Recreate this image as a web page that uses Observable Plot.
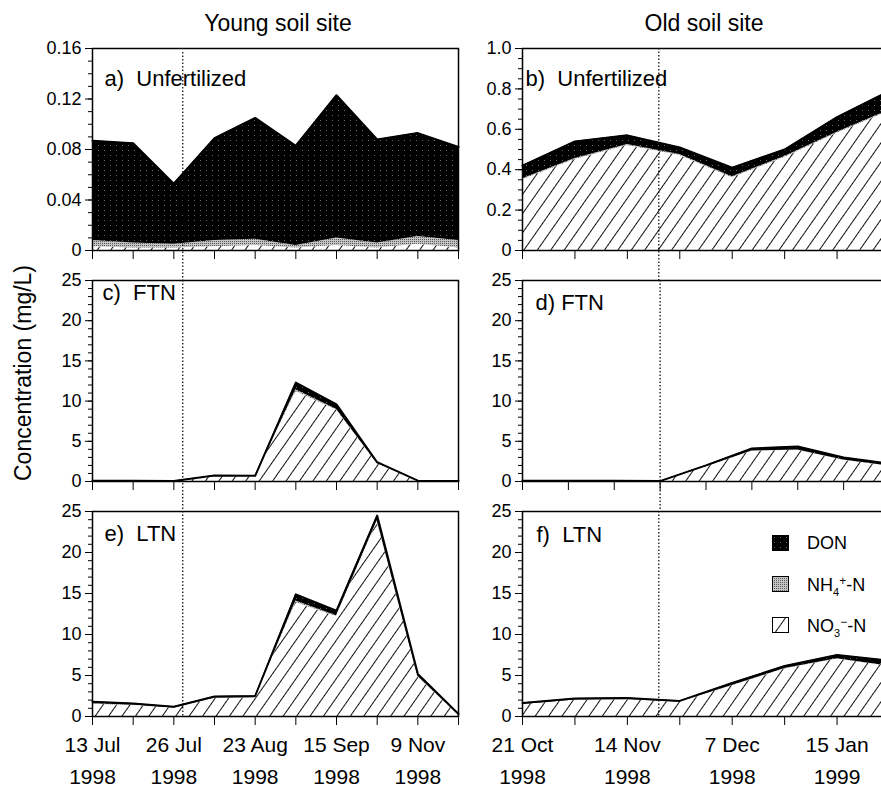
<!DOCTYPE html>
<html><head><meta charset="utf-8">
<script src="https://cdn.jsdelivr.net/npm/d3@7"></script>
<script src="https://cdn.jsdelivr.net/npm/@observablehq/plot@0.6"></script>
<style>
html,body{margin:0;padding:0;background:#fff;}
body{width:881px;height:788px;overflow:hidden;position:relative;font-family:"Liberation Sans",Arial,Helvetica,sans-serif;color:#000;}
#chart{position:absolute;left:0;top:0;width:881px;height:788px;overflow:hidden;}
.title{position:absolute;font-size:23px;line-height:1;white-space:nowrap;transform:translateX(-50%);}
.ylab{position:absolute;font-size:23px;line-height:1;white-space:nowrap;transform:translate(-50%,-50%) rotate(-90deg);}
.panel{position:absolute;}
.panel svg{max-width:none !important;}
.leg{position:absolute;font-size:18px;line-height:1;white-space:nowrap;}
.leg sub{font-size:11px;vertical-align:-5px;line-height:0;}
.leg sup{font-size:12px;vertical-align:6px;line-height:0;}
.sw{position:absolute;}
</style></head>
<body>
<svg width="0" height="0" style="position:absolute">
<defs>
<pattern id="hatchNO3" patternUnits="userSpaceOnUse" width="11" height="11" patternTransform="rotate(35)">
<rect width="11" height="11" fill="#fff"/>
<line x1="0.5" y1="0" x2="0.5" y2="11" stroke="#111" stroke-width="1"/>
</pattern>
<pattern id="stipNH4" patternUnits="userSpaceOnUse" width="2" height="2">
<rect width="2" height="2" fill="#c4c4c4"/><rect width="1" height="1" fill="#5a5a5a"/>
</pattern>
<pattern id="stipDON" patternUnits="userSpaceOnUse" width="6" height="5">
<rect width="6" height="5" fill="#000"/><rect x="2" y="2" width="1" height="1" fill="#6a6a6a"/>
</pattern>
</defs></svg>
<div id="chart">
  <div class="title" style="left:278px;top:11.5px">Young soil site</div>
  <div class="title" style="left:704px;top:11.5px">Old soil site</div>
  <div class="ylab" style="left:22.5px;top:372.5px">Concentration (mg/L)</div>
</div>
<script>
// ---------- data ----------
const keys = ["NO3", "NH4", "DON"];

// Young soil site: 10 sampling dates
const youngTickLabels = ["13 Jul\n1998", "", "26 Jul\n1998", "", "23 Aug\n1998", "", "15 Sep\n1998", "", "9 Nov\n1998", ""];
// Old soil site: 8 sampling dates (panel d: 9)
const oldTickLabels = ["21 Oct\n1998", "", "14 Nov\n1998", "", "7 Dec\n1998", "", "15 Jan\n1999", ""];

// a) young, unfertilized
const no3A = [0.003, 0.002, 0.002, 0.003, 0.004, 0.002, 0.004, 0.002, 0.005, 0.002];
const nh4A = [0.005, 0.004, 0.003, 0.005, 0.005, 0.002, 0.006, 0.004, 0.006, 0.006];
const donA = [0.079, 0.079, 0.048, 0.081, 0.096, 0.079, 0.113, 0.082, 0.082, 0.074];
// c) young, FTN
const no3C = [0.05, 0.05, 0.02, 0.6, 0.6, 11.2, 8.9, 2.2, 0.05, 0.02];
const nh4C = [0.01, 0.01, 0.01, 0.05, 0.03, 0.2, 0.1, 0.05, 0.01, 0.01];
const donC = [0.04, 0.04, 0.02, 0.1, 0.07, 0.9, 0.6, 0.15, 0.04, 0.02];
// e) young, LTN
const no3E = [1.5, 1.35, 1.0, 2.2, 2.25, 13.9, 12.2, 23.8, 4.8, 0.2];
const nh4E = [0.05, 0.05, 0.05, 0.05, 0.05, 0.2, 0.1, 0.1, 0.1, 0.02];
const donE = [0.25, 0.2, 0.15, 0.2, 0.2, 0.8, 0.6, 0.6, 0.3, 0.08];
// b) old, unfertilized
const no3B = [0.35, 0.45, 0.52, 0.47, 0.36, 0.46, 0.58, 0.69];
const nh4B = [0.005, 0.005, 0.005, 0.005, 0.005, 0.005, 0.005, 0.005];
const donB = [0.065, 0.085, 0.045, 0.035, 0.045, 0.035, 0.075, 0.095];
// d) old, FTN (9 dates)
const no3D = [0.04, 0.04, 0.04, 0.02, 1.8, 3.75, 3.9, 2.65, 1.9];
const nh4D = [0.01, 0.01, 0.01, 0.01, 0.02, 0.03, 0.03, 0.03, 0.02];
const donD = [0.03, 0.03, 0.03, 0.02, 0.18, 0.32, 0.42, 0.32, 0.28];
// f) old, LTN
const no3F = [1.45, 2.0, 2.05, 1.75, 3.75, 5.8, 7.0, 6.1];
const nh4F = [0.02, 0.02, 0.02, 0.02, 0.03, 0.05, 0.05, 0.05];
const donF = [0.18, 0.18, 0.18, 0.13, 0.32, 0.3, 0.45, 0.65];

// fertilization date (position in sample index units)
const fertYoung = 2.22, fertOld = 2.6, fertOldD = 3;

// y ticks
const yTicksA = [0, 0.04, 0.08, 0.12, 0.16], yLabelsA = ["0", "0.04", "0.08", "0.12", "0.16"];
const yTicksB = [0, 0.2, 0.4, 0.6, 0.8, 1.0], yLabelsB = ["0", "0.2", "0.4", "0.6", "0.8", "1.0"];
const yTicksN = [0, 5, 10, 15, 20, 25], yLabelsN = ["0", "5", "10", "15", "20", "25"];

// ---------- layout ----------
const frameTops = [48, 280, 511], frameBottoms = [250, 481, 716], marginBottoms = [30, 30, 72];
const cols = [{left: 0, width: 463, marginLeft: 92}, {left: 440, width: 454, marginLeft: 82}];

const chart = document.getElementById("chart");

function panel(cfg) {
  const {col, row, no3, nh4, don, yDomain, yTicks, yLabels, minorStep, xLabels, fert, label, labelDx, labelDy, ruleTop} = cfg;
  const n = no3.length;
  const series = {NO3: no3, NH4: nh4, DON: don};
  const long = [];
  for (let i = 0; i < n; i++) for (const k of keys) long.push({i, s: k, v: series[k][i]});
  const idx = d3.range(n);
  const total = idx.map(i => no3[i] + nh4[i] + don[i]);
  const minor = d3.range(0, yDomain[1] + minorStep / 2, minorStep);
  const marginTop = 5;
  const c = cols[col];
  const frameTop = frameTops[row], frameBottom = frameBottoms[row], marginBottom = marginBottoms[row];
  const height = marginTop + (frameBottom - frameTop) + marginBottom;
  const yMap = new Map(yTicks.map((t, j) => [t, yLabels[j]]));
  const ruleBottom = row < 2 ? -(frameTops[row + 1] - frameBottom) : 0;
  const svg = Plot.plot({
    width: c.width, height, marginLeft: c.marginLeft, marginRight: 5, marginTop, marginBottom,
    x: {domain: [0, n - 1], label: null},
    y: {domain: yDomain, label: null},
    color: {domain: keys, range: ["url(#hatchNO3)", "url(#stipNH4)", "url(#stipDON)"]},
    style: {background: "transparent", overflow: "visible", maxWidth: "none", fontFamily: "'Liberation Sans', Arial, Helvetica, sans-serif", fontSize: "18px", color: "#000"},
    marks: [
      Plot.areaY(long, {x: "i", y: "v", z: "s", fill: "s", order: keys}),
      Plot.lineY(idx, {x: i => i, y: i => total[i], stroke: "#000", strokeWidth: 2, strokeLinejoin: "round"}),
      Plot.ruleX([fert], {stroke: "#000", strokeWidth: 1.2, strokeDasharray: "1.5,2", insetTop: ruleTop, insetBottom: ruleBottom}),
      Plot.frame({stroke: "#000", strokeWidth: 1.5}),
      Plot.axisY(minor, {tickSize: 4, tickFormat: () => "", label: null}),
      Plot.axisY(yTicks, {tickSize: 7, tickPadding: 4, tickFormat: d => yMap.get(d), fontSize: 18, label: null}),
      Plot.axisX(idx, {tickSize: 9, tickPadding: 3, tickFormat: d => (xLabels && xLabels[d]) || "", fontSize: 21, lineHeight: 1.55, label: null}),
      Plot.text([label], {frameAnchor: "top-left", textAnchor: "start", lineAnchor: "top", dx: labelDx, dy: labelDy, fontSize: 22})
    ]
  });
  svg.style.maxWidth = "none";
  const div = document.createElement("div");
  div.className = "panel";
  div.style.left = c.left + "px";
  div.style.top = (frameTop - marginTop) + "px";
  div.style.width = c.width + "px";
  div.style.height = height + "px";
  div.appendChild(svg);
  chart.appendChild(div);
}

panel({col: 0, row: 0, no3: no3A, nh4: nh4A, don: donA, yDomain: [0, 0.16], yTicks: yTicksA, yLabels: yLabelsA, minorStep: 0.01, xLabels: null, fert: fertYoung, label: "a)\u00a0 Unfertilized", labelDx: 12, labelDy: 22, ruleTop: 4});
panel({col: 0, row: 1, no3: no3C, nh4: nh4C, don: donC, yDomain: [0, 25], yTicks: yTicksN, yLabels: yLabelsN, minorStep: 1, xLabels: null, fert: fertYoung, label: "c)\u00a0 FTN", labelDx: 10, labelDy: 4, ruleTop: 0});
panel({col: 0, row: 2, no3: no3E, nh4: nh4E, don: donE, yDomain: [0, 25], yTicks: yTicksN, yLabels: yLabelsN, minorStep: 1, xLabels: youngTickLabels, fert: fertYoung, label: "e)\u00a0 LTN", labelDx: 12, labelDy: 14, ruleTop: 0});
panel({col: 1, row: 0, no3: no3B, nh4: nh4B, don: donB, yDomain: [0, 1], yTicks: yTicksB, yLabels: yLabelsB, minorStep: 0.05, xLabels: null, fert: fertOld, label: "b)\u00a0 Unfertilized", labelDx: 3, labelDy: 22, ruleTop: 0});
panel({col: 1, row: 1, no3: no3D, nh4: nh4D, don: donD, yDomain: [0, 25], yTicks: yTicksN, yLabels: yLabelsN, minorStep: 1, xLabels: null, fert: fertOldD, label: "d)\u00a0FTN", labelDx: 13, labelDy: 14, ruleTop: 0});
panel({col: 1, row: 2, no3: no3F, nh4: nh4F, don: donF, yDomain: [0, 25], yTicks: yTicksN, yLabels: yLabelsN, minorStep: 1, xLabels: oldTickLabels, fert: fertOld, label: "f)\u00a0 LTN", labelDx: 14, labelDy: 15, ruleTop: 0});

// ---------- legend (inside panel f) ----------
const legendItems = [
  {fill: "url(#stipDON)", html: "DON"},
  {fill: "url(#stipNH4)", html: "NH<sub>4</sub><sup>+</sup>-N"},
  {fill: "url(#hatchNO3)", html: "NO<sub>3</sub><sup>\u2212</sup>-N"}
];
const legTops = [535, 576, 617], legBaselines = [549, 591, 632];
legendItems.forEach((it, j) => {
  const sw = document.createElementNS("http://www.w3.org/2000/svg", "svg");
  sw.setAttribute("class", "sw");
  sw.setAttribute("width", 17); sw.setAttribute("height", 16);
  sw.style.left = "772px"; sw.style.top = legTops[j] + "px";
  const r = document.createElementNS("http://www.w3.org/2000/svg", "rect");
  r.setAttribute("x", 0.5); r.setAttribute("y", 0.5); r.setAttribute("width", 16); r.setAttribute("height", 15);
  r.setAttribute("fill", it.fill); r.setAttribute("stroke", "#000"); r.setAttribute("stroke-width", 1);
  sw.appendChild(r);
  chart.appendChild(sw);
  const t = document.createElement("div");
  t.className = "leg";
  t.style.left = "807px";
  t.style.top = (legBaselines[j] - 0.8465 * 18) + "px";
  t.innerHTML = it.html;
  chart.appendChild(t);
});
</script>
</body></html>
